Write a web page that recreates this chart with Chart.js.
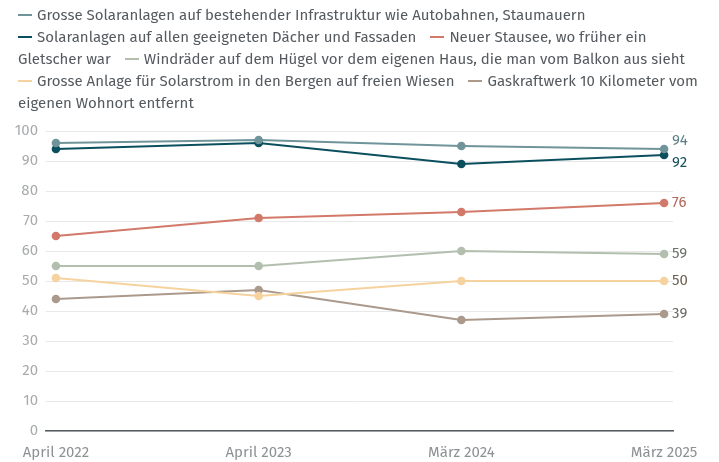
<!DOCTYPE html>
<html>
<head>
<meta charset="utf-8">
<script src="https://cdn.jsdelivr.net/npm/chart.js@4.4.1/dist/chart.umd.min.js"></script>
<style>
    html, body { margin: 0; padding: 0; background: #fff; }
    #wrap { position: relative; width: 719px; height: 462px; }
    #legend {
        position: absolute; left: 18px; top: 4px; width: 681px;
        font-family: "Fira Sans", "Noto Sans", sans-serif; font-size: 15px;
        line-height: 22px; color: #555a5f;
    }
    #legend .item { margin-right: 10px; }
    #legend .lead { white-space: nowrap; }
    #legend .dash {
        display: inline-block; width: 14px; height: 2px;
        vertical-align: middle; margin-right: 5px; margin-bottom: 2px;
    }
</style>
</head>
<body>
<div id="wrap">
    <div id="legend"></div>
    <canvas id="chartSurvey" width="719" height="462"></canvas>
</div>
<script>
const periods = ["April 2022", "April 2023", "März 2024", "März 2025"];
const seriesNames = [
    "Grosse Solaranlagen auf bestehender Infrastruktur wie Autobahnen, Staumauern",
    "Solaranlagen auf allen geeigneten Dächer und Fassaden",
    "Neuer Stausee, wo früher ein Gletscher war",
    "Windräder auf dem Hügel vor dem eigenen Haus, die man vom Balkon aus sieht",
    "Grosse Anlage für Solarstrom in den Bergen auf freien Wiesen",
    "Gaskraftwerk 10 Kilometer vom eigenen Wohnort entfernt"
];
const infrastruktur = [96, 97, 95, 94];
const daecher = [94, 96, 89, 92];
const stausee = [65, 71, 73, 76];
const windraeder = [55, 55, 60, 59];
const alpinSolar = [51, 45, 50, 50];
const gaskraftwerk = [44, 47, 37, 39];
const yTicks = [0, 10, 20, 30, 40, 50, 60, 70, 80, 90, 100];

const seriesValues = [infrastruktur, daecher, stausee, windraeder, alpinSolar, gaskraftwerk];
const lineColors = ["#6f9499", "#0b4f5e", "#d2796a", "#b3bfae", "#f6d39e", "#ab9a8c"];
const labelColors = ["#5b7f86", "#174f5c", "#b0685c", "#6a7468", "#6e6152", "#6b6a66"];
const labelShift = [-8, 8, 0, 0, 0, 0];

// legend as html so the labels wrap like running text
const legendBox = document.getElementById('legend');
seriesNames.forEach((name, i) => {
    const item = document.createElement('span');
    item.className = 'item';
    const words = name.split(' ');
    // keep the dash glued to the first word
    const lead = document.createElement('span');
    lead.className = 'lead';
    const dash = document.createElement('span');
    dash.className = 'dash';
    dash.style.background = lineColors[i];
    lead.appendChild(dash);
    lead.appendChild(document.createTextNode(words[0]));
    item.appendChild(lead);
    item.appendChild(document.createTextNode(' ' + words.slice(1).join(' ')));
    legendBox.appendChild(item);
    legendBox.appendChild(document.createTextNode(' '));
});

const endLabels = {
    id: "endLabels",
    afterDatasetsDraw(chart) {
        const { ctx } = chart;
        ctx.save();
        ctx.font = "15px 'Fira Sans', 'Noto Sans', sans-serif";
        ctx.textAlign = "left";
        ctx.textBaseline = "middle";
        chart.data.datasets.forEach((ds, i) => {
            const pts = chart.getDatasetMeta(i).data;
            const last = pts[pts.length - 1];
            ctx.fillStyle = labelColors[i];
            ctx.fillText(String(ds.data[ds.data.length - 1].y), last.x + 8, last.y + labelShift[i]);
        });
        ctx.restore();
    }
};

const chrtSurvey = document.getElementById('chartSurvey');
new Chart(chrtSurvey, {
    type: 'line',
    data: {
        datasets: seriesValues.map((vals, i) => ({
            label: seriesNames[i],
            data: vals.map((v, k) => ({ x: k, y: v })),
            borderColor: lineColors[i],
            backgroundColor: lineColors[i],
            borderWidth: 2,
            pointRadius: 3.3,
            pointHoverRadius: 3.3,
            tension: 0
        }))
    },
    options: {
        responsive: false,
        animation: false,
        layout: { padding: { top: 131, right: 46, left: 0, bottom: 0 } },
        plugins: {
            legend: { display: false },
            tooltip: { enabled: false }
        },
        scales: {
            x: {
                type: 'linear',
                min: -0.049,
                max: 3.044,
                afterBuildTicks: (scale) => {
                    scale.ticks = periods.map((p, k) => ({ value: k }));
                },
                afterFit: (scale) => { scale.height = 31; },
                grid: { display: false },
                border: { display: true, color: '#555a60', width: 1.5 },
                ticks: {
                    callback: (v) => periods[v],
                    color: '#8e9194',
                    padding: 5,
                    maxRotation: 0,
                    font: { family: "'Fira Sans', 'Noto Sans', sans-serif", size: 15 }
                }
            },
            y: {
                min: 0,
                max: 100,
                afterBuildTicks: (scale) => {
                    scale.ticks = yTicks.map(v => ({ value: v }));
                },
                afterFit: (scale) => { scale.width = 46; },
                grid: { color: '#e8e8e8', drawTicks: false },
                border: { display: false },
                ticks: {
                    color: '#a8abad',
                    padding: 8,
                    font: { family: "'Fira Sans', 'Noto Sans', sans-serif", size: 15 }
                }
            }
        }
    },
    plugins: [endLabels]
});
</script>
</body>
</html>
